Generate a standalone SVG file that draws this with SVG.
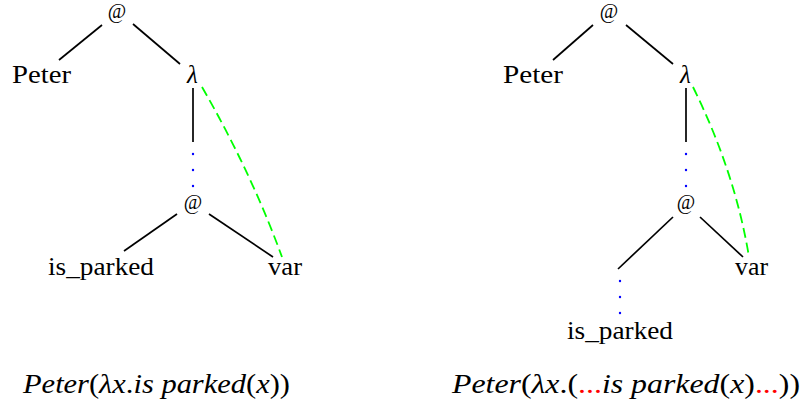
<svg xmlns="http://www.w3.org/2000/svg" width="806" height="406" viewBox="0 0 806 406">
<style>
.lbl{font-family:"Liberation Serif","DejaVu Serif",serif;font-size:25px;fill:#000}
.at{font-family:"Liberation Serif","DejaVu Serif",serif;font-size:20px;fill:#000;text-anchor:middle}
.edge{stroke:#000;stroke-width:1.7;fill:none;stroke-linecap:butt}
.bind{stroke:#00ff00;stroke-width:1.8;fill:none;stroke-dasharray:10,5}
.dot{fill:#0000ff}
.f{font-family:"Liberation Serif","DejaVu Serif",serif;font-size:28px;font-style:italic;fill:#000}
.up{font-style:normal}
.red{fill:#ff0000;font-style:normal}
</style>
<rect width="806" height="406" fill="#fff"/>
<g id="connectors">
  <line class="edge" x1="102" y1="25" x2="59" y2="60"/>
  <line class="edge" x1="133" y1="24" x2="180" y2="64"/>
  <line class="edge" x1="193" y1="88" x2="193" y2="142"/>
  <circle class="dot" cx="193" cy="154" r="1.2"/>
  <circle class="dot" cx="193" cy="170" r="1.2"/>
  <circle class="dot" cx="193" cy="186" r="1.2"/>
  <line class="edge" x1="177" y1="214" x2="124" y2="251"/>
  <line class="edge" x1="209" y1="214" x2="273" y2="257"/>
  <path class="bind" d="M202,87 Q251,172 282,257"/>
  <line class="edge" x1="593" y1="25" x2="553" y2="60"/>
  <line class="edge" x1="626" y1="25" x2="673" y2="64"/>
  <line class="edge" x1="686" y1="88" x2="686" y2="142"/>
  <circle class="dot" cx="686" cy="154" r="1.2"/>
  <circle class="dot" cx="686" cy="170" r="1.2"/>
  <circle class="dot" cx="686" cy="186" r="1.2"/>
  <line class="edge" x1="673" y1="217" x2="618" y2="269"/>
  <line class="edge" x1="700" y1="217" x2="743" y2="257"/>
  <circle class="dot" cx="620" cy="281" r="1.2"/>
  <circle class="dot" cx="620" cy="297" r="1.2"/>
  <circle class="dot" cx="620" cy="313" r="1.2"/>
  <path class="bind" d="M693,87 Q735,172 749,257"/>
</g>
<g id="left-app-top"><text class="at" x="117" y="18">@</text></g>
<g id="left-peter"><text class="lbl" x="12" y="83" textLength="59" lengthAdjust="spacingAndGlyphs">Peter</text></g>
<g id="left-lambda"><text class="lbl" x="187" y="83" font-style="italic">λ</text></g>
<g id="left-app-inner"><text class="at" x="193" y="209">@</text></g>
<g id="left-is-parked"><text class="lbl" x="48" y="275" textLength="106" lengthAdjust="spacingAndGlyphs">is_parked</text></g>
<g id="left-var"><text class="lbl" x="268" y="275" textLength="34" lengthAdjust="spacingAndGlyphs">var</text></g>

<g id="right-app-top"><text class="at" x="609" y="18">@</text></g>
<g id="right-peter"><text class="lbl" x="503" y="83" textLength="60" lengthAdjust="spacingAndGlyphs">Peter</text></g>
<g id="right-lambda"><text class="lbl" x="680" y="83" font-style="italic">λ</text></g>
<g id="right-app-inner"><text class="at" x="686" y="209">@</text></g>
<g id="right-var"><text class="lbl" x="735" y="275" textLength="33" lengthAdjust="spacingAndGlyphs">var</text></g>
<g id="right-is-parked"><text class="lbl" x="567" y="339" textLength="106" lengthAdjust="spacingAndGlyphs">is_parked</text></g>

<g id="left-formula"><text class="f" x="23" y="393" textLength="267" lengthAdjust="spacingAndGlyphs">Peter<tspan class="up">(</tspan>λx<tspan class="up">.</tspan>is parked<tspan class="up">(</tspan>x<tspan class="up">))</tspan></text></g>
<g id="right-formula"><text class="f" x="452" y="393" textLength="348" lengthAdjust="spacingAndGlyphs">Peter<tspan class="up">(</tspan>λx<tspan class="up">.(</tspan><tspan class="red">...</tspan>is parked<tspan class="up">(</tspan>x<tspan class="up">)</tspan><tspan class="red">...</tspan><tspan class="up">))</tspan></text></g>
</svg>
